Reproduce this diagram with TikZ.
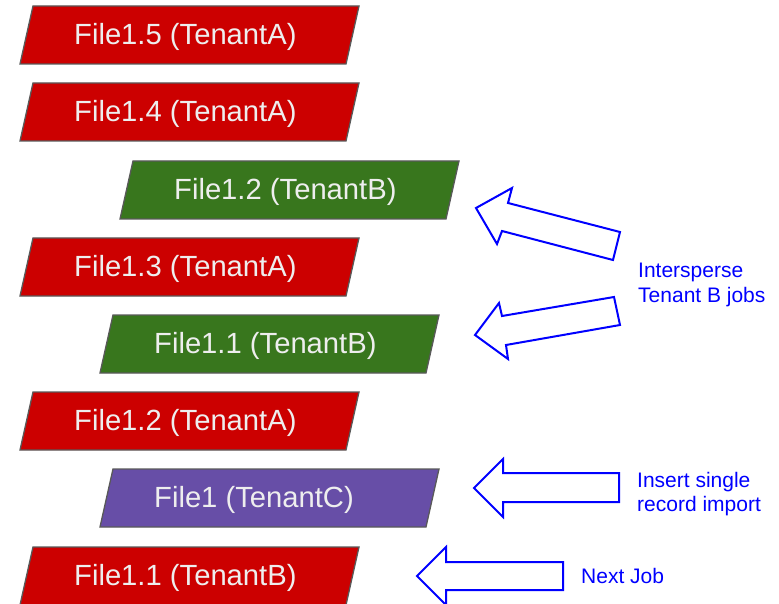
\documentclass[tikz,border=0pt]{standalone}
\usepackage{fontspec}
\setmainfont{Liberation Sans}
\definecolor{jobred}{HTML}{CC0000}
\definecolor{jobgreen}{HTML}{38761D}
\definecolor{jobpurple}{HTML}{674EA7}
\definecolor{jobedge}{HTML}{595959}
\definecolor{jobtext}{HTML}{EEEEEE}
\definecolor{noteblue}{HTML}{0000FF}
% one job: parallelogram with its label, x0/y0 = bottom-left x, top y
\newcommand\jobbox[5]{%
  \draw[jobframe, fill=#3] (#1+13,#2) -- (#1+339,#2) -- (#1+326,#2+58) -- (#1,#2+58) -- cycle;
  \node[jobtext] (#4) at (#1+54,#2+38.5) {#5};
}
\begin{document}
\begin{tikzpicture}[x=1pt, y=-1pt,
  jobframe/.style={draw=jobedge, line width=1.3pt, line join=miter},
  jobtext/.style={anchor=base west, inner sep=0pt, text=jobtext, font=\fontsize{29.2}{33}\selectfont},
  blockarrow/.style={draw=noteblue, line width=2pt, line join=miter, fill=white},
  note/.style={inner sep=0pt, text=noteblue, align=left, font=\fontsize{21}{24.5}\selectfont}]
\useasboundingbox (0,0) rectangle (779,604);
\begin{scope}
\clip (0,0) rectangle (779,604);
% job queue, top to bottom
\jobbox{20}{6}{jobred}{a15}{File1.5 (TenantA)}
\jobbox{20}{83}{jobred}{a14}{File1.4 (TenantA)}
\jobbox{120}{161}{jobgreen}{b12}{File1.2 (TenantB)}
\jobbox{20}{238}{jobred}{a13}{File1.3 (TenantA)}
\jobbox{100}{315}{jobgreen}{b11}{File1.1 (TenantB)}
\jobbox{20}{392}{jobred}{a12}{File1.2 (TenantA)}
\jobbox{100}{469}{jobpurple}{c1}{File1 (TenantC)}
\jobbox{20}{547}{jobred}{b11first}{File1.1 (TenantB)}
% block arrows pointing at the queue
\draw[blockarrow] (476,208) -- (512,188) -- (508,203) -- (620,232) -- (613,260) -- (502,231) -- (497,244) -- cycle;
\draw[blockarrow] (475,335) -- (499,303) -- (502,316) -- (614,297) -- (620,325) -- (506,345) -- (508,359) -- cycle;
\draw[blockarrow] (474,488) -- (503,459) -- (503,473) -- (619,473) -- (619,502) -- (503,502) -- (503,517) -- cycle;
\draw[blockarrow] (417,576) -- (446,547) -- (446,562) -- (563,562) -- (563,590) -- (446,590) -- (446,605) -- cycle;
\end{scope}
% notes
\node[note, anchor=north west] (n1) at (638,263) {Intersperse\\Tenant B jobs};
\node[note, anchor=north west] (n2) at (637,472) {Insert single\\record import};
\node[note, anchor=base west] (n3) at (581,583) {Next Job};
\end{tikzpicture}
\end{document}
